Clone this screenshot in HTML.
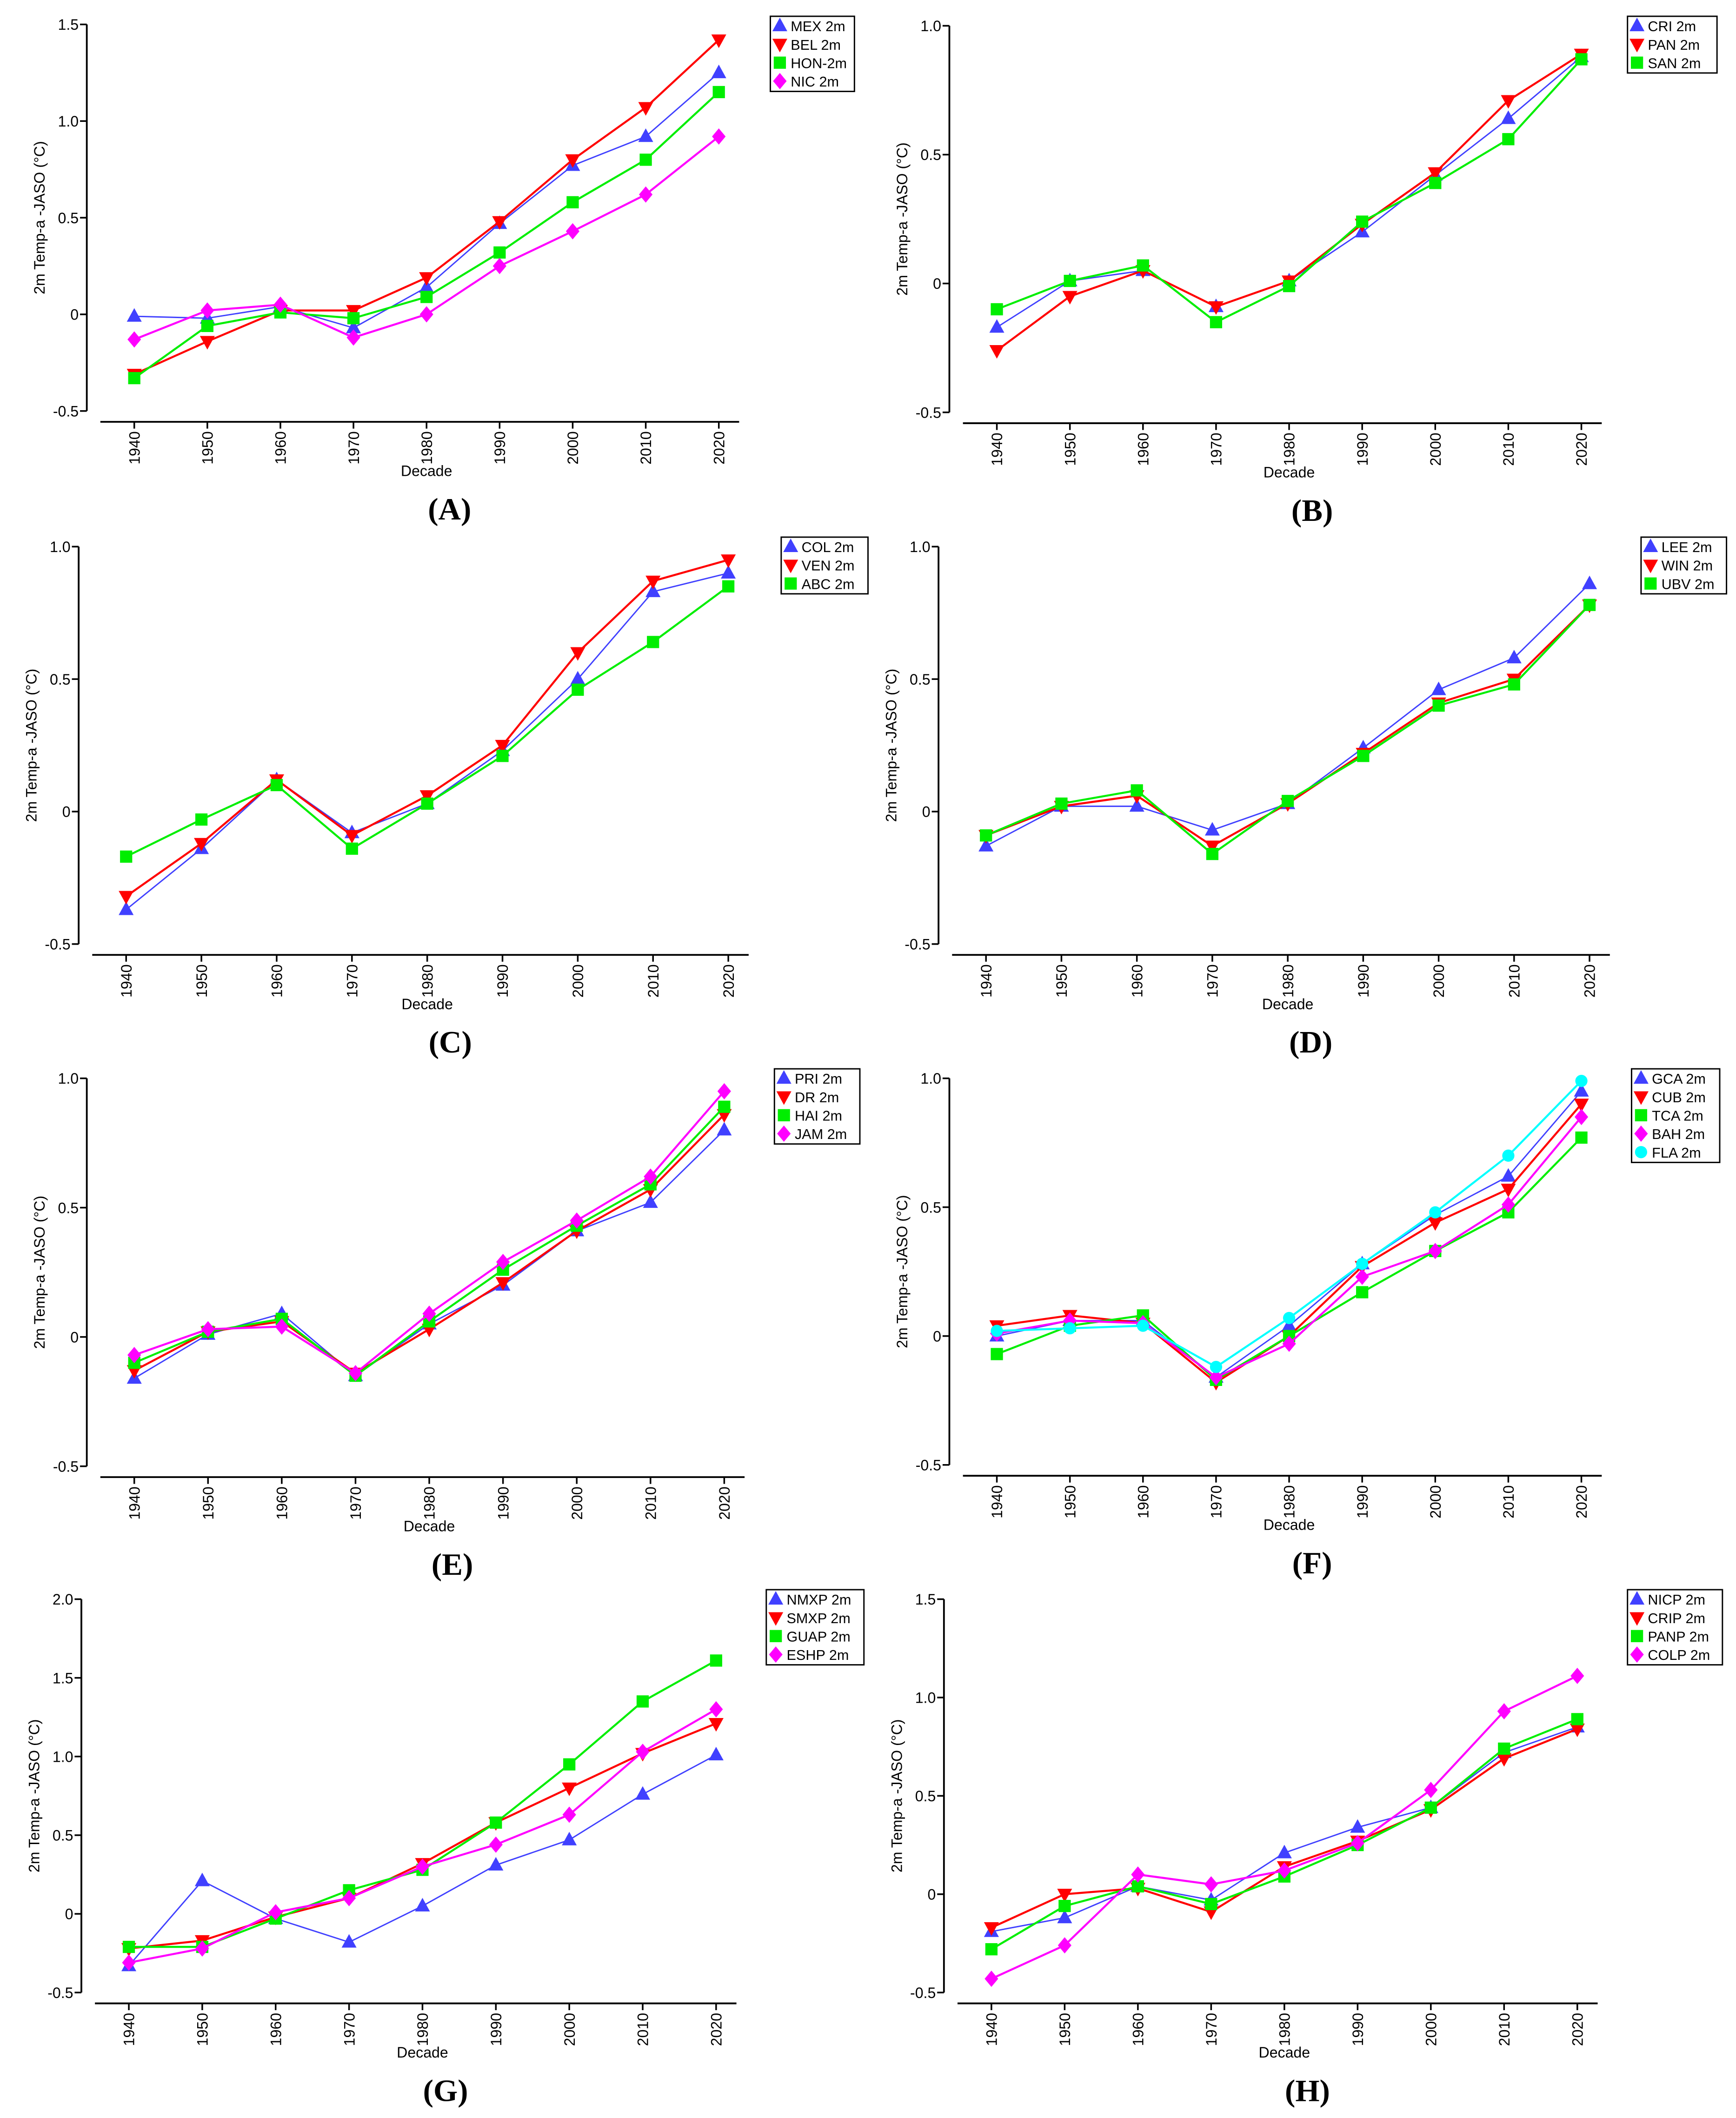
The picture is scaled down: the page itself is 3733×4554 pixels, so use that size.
<!DOCTYPE html>
<html><head><meta charset="utf-8"><style>
html,body{margin:0;padding:0;background:#fff;}
svg{display:block;}
text{font-family:"Liberation Sans",sans-serif;}
</style></head><body>
<svg id="fig" width="3733" height="4554" viewBox="0 0 1280 1561.5" xmlns="http://www.w3.org/2000/svg"></svg>
<script>
const decades=[1940,1950,1960,1970,1980,1990,2000,2010,2020];
// Panel A
const mexA=[-0.01,-0.02,0.04,-0.07,0.14,0.47,0.77,0.92,1.25];
const belA=[-0.31,-0.14,0.02,0.02,0.19,0.48,0.80,1.07,1.42];
const honA=[-0.33,-0.06,0.01,-0.02,0.09,0.32,0.58,0.80,1.15];
const nicA=[-0.13,0.02,0.05,-0.12,0.00,0.25,0.43,0.62,0.92];
// Panel B
const criB=[-0.17,0.01,0.05,-0.09,0.01,0.20,0.42,0.64,0.88];
const panB=[-0.26,-0.05,0.05,-0.09,0.01,0.23,0.43,0.71,0.89];
const sanB=[-0.10,0.01,0.07,-0.15,-0.01,0.24,0.39,0.56,0.87];
// Panel C
const colC=[-0.37,-0.14,0.12,-0.08,0.03,0.23,0.50,0.83,0.90];
const venC=[-0.32,-0.12,0.12,-0.09,0.06,0.25,0.60,0.87,0.95];
const abcC=[-0.17,-0.03,0.10,-0.14,0.03,0.21,0.46,0.64,0.85];
// Panel D
const leeD=[-0.13,0.02,0.02,-0.07,0.03,0.24,0.46,0.58,0.86];
const winD=[-0.09,0.02,0.06,-0.13,0.03,0.22,0.41,0.50,0.78];
const ubvD=[-0.09,0.03,0.08,-0.16,0.04,0.21,0.40,0.48,0.78];
// Panel E
const priE=[-0.16,0.01,0.09,-0.15,0.05,0.20,0.41,0.52,0.80];
const drE=[-0.13,0.02,0.06,-0.14,0.03,0.21,0.41,0.57,0.86];
const haiE=[-0.10,0.02,0.07,-0.15,0.06,0.26,0.43,0.59,0.89];
const jamE=[-0.07,0.03,0.04,-0.14,0.09,0.29,0.45,0.62,0.95];
// Panel F
const gcaF=[0.00,0.06,0.06,-0.16,0.04,0.28,0.47,0.62,0.95];
const cubF=[0.04,0.08,0.05,-0.18,0.00,0.27,0.44,0.57,0.90];
const tcaF=[-0.07,0.04,0.08,-0.17,0.00,0.17,0.33,0.48,0.77];
const bahF=[0.01,0.06,0.05,-0.16,-0.03,0.23,0.33,0.51,0.85];
const flaF=[0.02,0.03,0.04,-0.12,0.07,0.28,0.48,0.70,0.99];
// Panel G
const nmxpG=[-0.33,0.21,-0.03,-0.18,0.05,0.31,0.47,0.76,1.01];
const smxpG=[-0.22,-0.17,-0.02,0.10,0.32,0.58,0.80,1.02,1.21];
const guapG=[-0.21,-0.21,-0.03,0.15,0.28,0.58,0.95,1.35,1.61];
const eshpG=[-0.31,-0.22,0.01,0.10,0.30,0.44,0.63,1.03,1.30];
// Panel H
const nicpH=[-0.19,-0.12,0.04,-0.03,0.21,0.34,0.44,0.72,0.85];
const cripH=[-0.17,0.00,0.03,-0.09,0.14,0.27,0.43,0.69,0.84];
const panpH=[-0.28,-0.06,0.04,-0.05,0.09,0.25,0.44,0.74,0.89];
const colpH=[-0.43,-0.26,0.10,0.05,0.12,0.26,0.53,0.93,1.11];
// tick labels
const ticks15=["-0.5","0","0.5","1.0","1.5"];
const ticks10=["-0.5","0","0.5","1.0"];
const ticks20=["-0.5","0","0.5","1.0","1.5","2.0"];

const COL={tri:"#4040ff",inv:"#ff0000",sq:"#00ee00",dia:"#ff00ff",circ:"#00ffff"};
const panels=[
 {id:"A",top:18,bot:303,x0:99,x1:530,ymin:-0.5,ymax:1.5,ticks:ticks15,lg:[568,12,62],
  series:[["MEX 2m",mexA,"tri",1],["BEL 2m",belA,"inv",1.5],["HON-2m",honA,"sq",1.5],["NIC 2m",nicA,"dia",1.5]]},
 {id:"B",top:19,bot:304,x0:735,x1:1166,ymin:-0.5,ymax:1.0,ticks:ticks10,lg:[1200,12,66],
  series:[["CRI 2m",criB,"tri",1],["PAN 2m",panB,"inv",1.5],["SAN 2m",sanB,"sq",1.5]]},
 {id:"C",top:403,bot:696,x0:93,x1:537,ymin:-0.5,ymax:1.0,ticks:ticks10,lg:[576,396,64],
  series:[["COL 2m",colC,"tri",1],["VEN 2m",venC,"inv",1.5],["ABC 2m",abcC,"sq",1.5]]},
 {id:"D",top:403,bot:696,x0:727,x1:1172,ymin:-0.5,ymax:1.0,ticks:ticks10,lg:[1210,396,63],
  series:[["LEE 2m",leeD,"tri",1],["WIN 2m",winD,"inv",1.5],["UBV 2m",ubvD,"sq",1.5]]},
 {id:"E",top:795,bot:1081,x0:99,x1:534,ymin:-0.5,ymax:1.0,ticks:ticks10,lg:[571,788,63],
  series:[["PRI 2m",priE,"tri",1],["DR 2m",drE,"inv",1.5],["HAI 2m",haiE,"sq",1.5],["JAM 2m",jamE,"dia",1.5]]},
 {id:"F",top:795,bot:1080,x0:735,x1:1166,ymin:-0.5,ymax:1.0,ticks:ticks10,lg:[1203,788,65],
  series:[["GCA 2m",gcaF,"tri",1],["CUB 2m",cubF,"inv",1.5],["TCA 2m",tcaF,"sq",1.5],["BAH 2m",bahF,"dia",1.5],["FLA 2m",flaF,"circ",1.5]]},
 {id:"G",top:1179,bot:1469,x0:95,x1:528,ymin:-0.5,ymax:2.0,ticks:ticks20,lg:[565,1172,72],
  series:[["NMXP 2m",nmxpG,"tri",1],["SMXP 2m",smxpG,"inv",1.5],["GUAP 2m",guapG,"sq",1.5],["ESHP 2m",eshpG,"dia",1.5]]},
 {id:"H",top:1179,bot:1469,x0:731,x1:1163,ymin:-0.5,ymax:1.5,ticks:ticks15,lg:[1200,1172,70],
  series:[["NICP 2m",nicpH,"tri",1],["CRIP 2m",cripH,"inv",1.5],["PANP 2m",panpH,"sq",1.5],["COLP 2m",colpH,"dia",1.5]]}
];
const NS="http://www.w3.org/2000/svg";
const svg=document.getElementById("fig");
function mk(tag,attrs,parent,txt){const e=document.createElementNS(NS,tag);for(const k in attrs)e.setAttribute(k,attrs[k]);if(txt!==undefined)e.textContent=txt;parent.appendChild(e);return e;}
function marker(g,kind,x,y){
 const c=COL[kind];let e;
 if(kind==="tri")e=mk("polygon",{points:`${x},${y-6} ${x-5.5},${y+4} ${x+5.5},${y+4}`,fill:c},g);
 else if(kind==="inv")e=mk("polygon",{points:`${x},${y+6} ${x-5.5},${y-4} ${x+5.5},${y-4}`,fill:c},g);
 else if(kind==="sq")e=mk("rect",{x:x-4.5,y:y-4.5,width:9,height:9,fill:c},g);
 else if(kind==="dia")e=mk("polygon",{points:`${x},${y-6} ${x+5},${y} ${x},${y+6} ${x-5},${y}`,fill:c},g);
 else e=mk("circle",{cx:x,cy:y,r:4.5,fill:c},g);
 return e;
}
panels.forEach(p=>{
 const g=mk("g",{},svg);
 
 
 const ys=v=>p.bot-(v-p.ymin)/(p.ymax-p.ymin)*(p.bot-p.top);
 const xs=i=>p.x0+i*(p.x1-p.x0)/(decades.length-1);
 const ax=p.x0-35;
 // y axis
 const ya=mk("line",{x1:ax,y1:p.top,x2:ax,y2:p.bot,stroke:"#000","stroke-width":1.3},g);
 
 
 p.ticks.forEach(t=>{
  const v=parseFloat(t);const y=ys(v);
  mk("line",{x1:ax-5,y1:y,x2:ax,y2:y,stroke:"#000","stroke-width":1.2},g);
  const tl=mk("text",{x:ax-6,y:y+4,"font-size":11,"text-anchor":"end"},g,t);
  
  
 });
 const ymid=(p.top+p.bot)/2;
 const yt=mk("text",{x:0,y:0,"font-size":11,"text-anchor":"middle",transform:`translate(${ax-31},${ymid}) rotate(-90)`},g,"2m Temp-a -JASO (\u00B0C)");
 
 
 // x axis
 const xb=p.bot+8;
 const xa=mk("line",{x1:ax+10,y1:xb,x2:p.x1+15,y2:xb,stroke:"#000","stroke-width":1.3},g);
 
 
 decades.forEach((d,i)=>{
  const x=xs(i);
  mk("line",{x1:x,y1:xb,x2:x,y2:xb+5,stroke:"#000","stroke-width":1.2},g);
  const tl=mk("text",{x:0,y:0,"font-size":11,"text-anchor":"end",transform:`translate(${x+4},${xb+7}) rotate(-90)`},g,String(d));
  
  
 });
 const xt=mk("text",{x:(p.x0+p.x1)/2,y:p.bot+48,"font-size":11,"text-anchor":"middle"},g,"Decade");
 
 
 const pl=mk("text",{x:(p.x0+p.x1)/2+17,y:p.bot+80,"font-size":23,"font-weight":"bold","text-anchor":"middle","font-family":"Liberation Serif, serif",style:"font-family:'Liberation Serif',serif"},g,"("+p.id+")");
 
 
 // series
 p.series.forEach(s=>{
  const sg=mk("g",{},g);
  
  
  const pts=s[1].map((v,i)=>xs(i)+","+ys(v)).join(" ");
  mk("polyline",{points:pts,fill:"none",stroke:COL[s[2]],"stroke-width":s[3]},sg);
  s[1].forEach((v,i)=>{
   const m=marker(sg,s[2],xs(i),ys(v));
   
   
  });
 });
 // legend
 const [lx,ly,lw]=p.lg;const n=p.series.length;
 const lgG=mk("g",{},g);
 
 
 mk("rect",{x:lx,y:ly,width:lw,height:n*13.6+1,fill:"#fff",stroke:"#000","stroke-width":1},lgG);
 p.series.forEach((s,i)=>{
  const cy=ly+7+i*13.6;
  const m=marker(lgG,s[2],lx+7,cy);
  const t=mk("text",{x:lx+15,y:cy+4,"font-size":10.5},lgG,s[0]);
  
  
 });
});
</script>
</body></html>
